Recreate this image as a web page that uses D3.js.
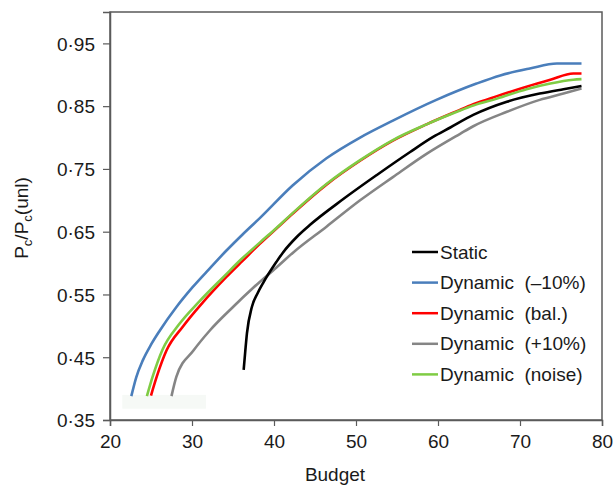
<!DOCTYPE html>
<html>
<head>
<meta charset="utf-8">
<script src="https://cdn.jsdelivr.net/npm/d3@7"></script>
<style>
  body { margin: 0; background: #fff; }
  text { font-family: "Liberation Sans", Arial, sans-serif; fill: #1a1a1a; }
</style>
</head>
<body>
<svg id="chart" width="613" height="485"></svg>
<script>
// values
var xTicks = [20, 30, 40, 50, 60, 70, 80];
var yTicks = [0.35, 0.45, 0.55, 0.65, 0.75, 0.85, 0.95];

var seriesNames = ["Dynamic  (\u201310%)", "Dynamic  (+10%)", "Static", "Dynamic  (bal.)", "Dynamic  (noise)"];
var seriesColors = ["#4a7ebb", "#858585", "#000000", "#ff0000", "#7fcc44"];

var blueB = [22.6, 23.2, 24.0, 25.0, 26.1, 28.1, 30.1, 32.2, 34.2, 36.2, 38.3, 42.3, 46.4, 50.5, 54.5, 59.8, 64.7, 67.6, 71.2, 74.5, 77.5];
var blueV = [0.388, 0.418, 0.445, 0.470, 0.493, 0.530, 0.562, 0.592, 0.620, 0.646, 0.672, 0.724, 0.767, 0.800, 0.827, 0.860, 0.886, 0.899, 0.910, 0.918, 0.918];

var grayB = [27.5, 28.1, 30.2, 32.2, 35.0, 37.5, 40.3, 42.35, 46.4, 50.5, 54.5, 58.6, 62.7, 64.3, 68.4, 72.4, 75.3, 77.5];
var grayV = [0.388, 0.419, 0.461, 0.493, 0.530, 0.561, 0.593, 0.617, 0.658, 0.700, 0.737, 0.774, 0.806, 0.818, 0.841, 0.860, 0.870, 0.878];

var blackB = [36.3, 36.5, 36.7, 37.3, 38.0, 38.7, 40.3, 41.1, 42.8, 44.4, 48.45, 52.5, 56.6, 59.4, 61.5, 64.3, 68.4, 72.4, 75.3, 77.5];
var blackV = [0.430, 0.460, 0.488, 0.530, 0.552, 0.569, 0.602, 0.617, 0.642, 0.661, 0.702, 0.740, 0.777, 0.801, 0.816, 0.836, 0.857, 0.870, 0.877, 0.882];

var redB = [25.0, 25.7, 26.9, 28.9, 31.3, 34.2, 36.2, 38.3, 40.3, 42.3, 46.4, 50.5, 54.5, 58.6, 62.3, 64.3, 67.2, 70.8, 73.7, 76.5, 77.5];
var redV = [0.389, 0.419, 0.461, 0.499, 0.537, 0.578, 0.604, 0.631, 0.655, 0.679, 0.725, 0.763, 0.795, 0.821, 0.842, 0.853, 0.866, 0.881, 0.892, 0.902, 0.902];

var greenB = [24.5, 25.2, 26.4, 28.4, 30.9, 34.0, 36.0, 38.3, 40.3, 42.3, 46.4, 50.5, 54.5, 58.6, 62.3, 64.3, 67.2, 70.8, 73.7, 76.5, 77.5];
var greenV = [0.388, 0.419, 0.462, 0.502, 0.539, 0.580, 0.606, 0.633, 0.656, 0.680, 0.726, 0.764, 0.796, 0.821, 0.841, 0.851, 0.862, 0.877, 0.886, 0.892, 0.893];

var legendOrder = ["Static", "Dynamic  (\u201310%)", "Dynamic  (bal.)", "Dynamic  (+10%)", "Dynamic  (noise)"];

var allB = [blueB, grayB, blackB, redB, greenB];
var allV = [blueV, grayV, blackV, redV, greenV];

var svg = d3.select("#chart");
var x = d3.scaleLinear().domain([20, 80]).range([110, 602]);
var y = d3.scaleLinear().domain([0.35, 1.0]).range([420, 12]);
var frame = "#5a5a5a";

// faint patch left in the original scan
svg.append("rect")
    .attr("x", x(21.5)).attr("y", y(0.39))
    .attr("width", x(31.7) - x(21.5)).attr("height", y(0.368) - y(0.39))
    .attr("fill", "#f6f9f6");

// plot frame
svg.append("rect")
    .attr("x", x(20)).attr("y", y(1.0))
    .attr("width", x(80) - x(20)).attr("height", y(0.35) - y(1.0))
    .attr("fill", "none").attr("stroke", frame).attr("stroke-width", 1.5);

var fmt = function(d) { return d3.format(".2f")(d).replace(".", "\u00b7"); };

var yAxis = svg.append("g")
    .attr("transform", "translate(" + x(20) + ",0)")
    .call(d3.axisLeft(y).tickValues(yTicks).tickSize(7).tickFormat(fmt));
var xAxis = svg.append("g")
    .attr("transform", "translate(0," + y(0.35) + ")")
    .call(d3.axisBottom(x).tickValues(xTicks).tickSize(6));

[xAxis, yAxis].forEach(function(a) {
    a.select(".domain").attr("stroke", frame).attr("stroke-width", 1.5);
    a.selectAll(".tick line").attr("stroke", frame).attr("stroke-width", 1.2);
    a.selectAll("text").attr("font-size", 19).attr("fill", "#1a1a1a")
        .attr("font-family", '"Liberation Sans", Arial, sans-serif');
});
yAxis.selectAll("text").attr("x", -15).attr("dy", "0.36em");
xAxis.selectAll("text").attr("y", 15);

// series
var line = d3.line()
    .x(function(d) { return x(d[0]); })
    .y(function(d) { return y(d[1]); })
    .curve(d3.curveMonotoneX);

seriesNames.forEach(function(name, i) {
    var pts = d3.zip(allB[i], allV[i]);
    svg.append("path")
        .datum(pts)
        .attr("d", line)
        .attr("fill", "none")
        .attr("stroke", seriesColors[i])
        .attr("stroke-width", 2.6)
        .attr("stroke-linejoin", "round");
});

// legend
var lg = svg.append("g");
legendOrder.forEach(function(name, i) {
    var c = seriesColors[seriesNames.indexOf(name)];
    var yy = 252 + i * 30.6;
    lg.append("line")
        .attr("x1", 412).attr("x2", 438).attr("y1", yy).attr("y2", yy)
        .attr("stroke", c).attr("stroke-width", 2.5);
    lg.append("text")
        .attr("x", 440).attr("y", yy + 6.5)
        .attr("font-size", 19)
        .style("white-space", "pre")
        .text(name);
});

// axis titles
svg.append("text")
    .attr("x", 335).attr("y", 481)
    .attr("text-anchor", "middle")
    .attr("font-size", 19)
    .text("Budget");

var yl = svg.append("text")
    .attr("transform", "translate(28,218) rotate(-90)")
    .attr("text-anchor", "middle")
    .attr("font-size", 19);
yl.append("tspan").text("P");
yl.append("tspan").attr("font-size", 13).attr("dy", 4).text("c");
yl.append("tspan").attr("dy", -4).text("/P");
yl.append("tspan").attr("font-size", 13).attr("dy", 4).text("c");
yl.append("tspan").attr("dy", -4).text("(unl)");
</script>
</body>
</html>
